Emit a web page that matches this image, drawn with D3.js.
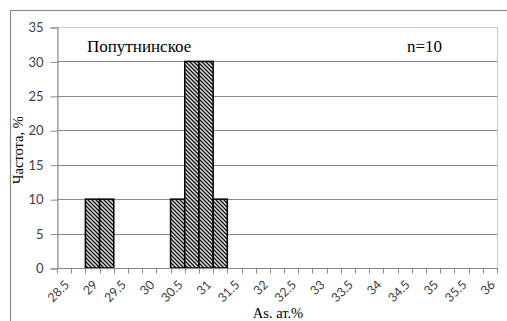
<!DOCTYPE html>
<html>
<head>
<meta charset="utf-8">
<script src="https://cdn.jsdelivr.net/npm/d3@7"></script>
<style>
  body { margin: 0; background: #fff; }
  svg { display: block; }
</style>
</head>
<body>
<svg width="507" height="321"></svg>
<script>
// As content bins (at.%), step 0.25
var bins = ['28.5','28.75','29','29.25','29.5','29.75','30','30.25','30.5','30.75','31','31.25','31.5','31.75',
            '32','32.25','32.5','32.75','33','33.25','33.5','33.75','34','34.25','34.5','34.75','35','35.25','35.5','35.75','36'];
// frequency, %
var freq = [0,0,10,10,0,0,0,0,10,30,30,10,0,0,0,0,0,0,0,0,0,0,0,0,0,0,0,0,0,0,0];
var yTicks = [0, 5, 10, 15, 20, 25, 30, 35];
var deposit = 'Попутнинское';
var sampleLabel = 'n=10';

var sansFont = 'Lato, "Liberation Sans", sans-serif';
var serifFont = '"Liberation Serif", "Times New Roman", "DejaVu Serif", serif';

var svg = d3.select('svg');

var plotLeft = 57, plotRight = 497, plotTop = 27, plotBottom = 268;

var x = d3.scaleBand()
          .domain(bins)
          .range([plotLeft, plotRight])
          .padding(0);

var y = d3.scaleLinear()
          .domain([0, 35])
          .range([plotBottom, plotTop]);

// hatch fill like Excel's "dark downward diagonal"
var pat = svg.append('defs')
  .append('pattern')
    .attr('id', 'hatch')
    .attr('patternUnits', 'userSpaceOnUse')
    .attr('width', 4)
    .attr('height', 4);
pat.append('rect')
  .attr('width', 4).attr('height', 4)
  .attr('fill', '#e0e0e0');
pat.append('path')
  .attr('d', 'M-1,-1L5,5M-1,3L1,5M3,-1L5,1')
  .attr('stroke', '#111')
  .attr('stroke-width', 1.3);

// outer chart frame (cropped at right and bottom)
svg.append('rect')
  .attr('x', 10.5).attr('y', 10.5)
  .attr('width', 520).attr('height', 340)
  .attr('fill', 'none')
  .attr('stroke', '#8c8c8c')
  .attr('stroke-width', 1.2);

// plot border
svg.append('rect')
  .attr('x', plotLeft + 0.5).attr('y', plotTop + 0.5)
  .attr('width', plotRight - plotLeft).attr('height', plotBottom - plotTop)
  .attr('fill', 'none')
  .attr('stroke', '#b8cce4');

// gridlines
svg.append('g')
  .selectAll('line')
  .data(yTicks.filter(d => d > 0 && d < 35))
  .enter()
  .append('line')
    .attr('x1', plotLeft).attr('x2', plotRight)
    .attr('y1', d => Math.round(y(d)) + 0.5)
    .attr('y2', d => Math.round(y(d)) + 0.5)
    .attr('stroke', '#8a8a8a');

// y axis
var yAxis = svg.append('g')
  .attr('transform', 'translate(' + (plotLeft + 0.5) + ',0.5)')
  .call(d3.axisLeft(y).tickValues(yTicks).tickSize(7).tickPadding(7));
yAxis.select('.domain').attr('stroke', '#8a8a8a');
yAxis.selectAll('.tick line').attr('stroke', '#8a8a8a');
yAxis.selectAll('.tick text')
  .attr('fill', '#404040')
  .style('font-family', sansFont)
  .style('font-size', '13px');

// bars
svg.append('g')
  .selectAll('rect')
  .data(bins.map((b, i) => ({ bin: b, value: freq[i] })).filter(d => d.value > 0))
  .enter()
  .append('rect')
    .attr('x', d => x(d.bin))
    .attr('y', d => y(d.value))
    .attr('width', x.bandwidth())
    .attr('height', d => y(0) - y(d.value))
    .attr('fill', 'url(#hatch)')
    .attr('stroke', '#000')
    .attr('stroke-width', 1.5);

// x axis: ticks at category boundaries, labels on every other category
var xAxis = svg.append('g').attr('transform', 'translate(0,' + (plotBottom + 0.5) + ')');
xAxis.append('line')
  .attr('x1', plotLeft).attr('x2', plotRight + 1)
  .attr('stroke', '#8a8a8a');
xAxis.selectAll('line.tk')
  .data(bins.concat(['end']))
  .enter()
  .append('line')
    .attr('class', 'tk')
    .attr('x1', (d, i) => Math.round(plotLeft + i * x.step()) + 0.5)
    .attr('x2', (d, i) => Math.round(plotLeft + i * x.step()) + 0.5)
    .attr('y1', 0).attr('y2', 5)
    .attr('stroke', '#8a8a8a');
xAxis.selectAll('text')
  .data(bins.filter((d, i) => i % 2 === 0))
  .enter()
  .append('text')
    .attr('text-anchor', 'end')
    .attr('fill', '#404040')
    .style('font-family', sansFont)
    .style('font-size', '12.5px')
    .attr('transform', d => 'translate(' + (x(d) + x.bandwidth() / 2 + 6) + ',17) rotate(-45)')
    .text(d => d);

// annotations
function serifText(sel, size) {
  return sel.append('text')
    .attr('fill', '#000')
    .attr('font-family', serifFont)
    .attr('font-size', size);
}

serifText(svg, 17)
  .attr('x', 87).attr('y', 52)
  .text(deposit);

serifText(svg, 17)
  .attr('x', 407).attr('y', 52)
  .text(sampleLabel);

serifText(svg, 14.5)
  .attr('text-anchor', 'middle')
  .attr('transform', 'translate(23,150) rotate(-90)')
  .text('Частота, %');

serifText(svg, 14.5)
  .attr('text-anchor', 'middle')
  .attr('x', 278).attr('y', 318)
  .text('As. ат.%');
</script>
</body>
</html>
